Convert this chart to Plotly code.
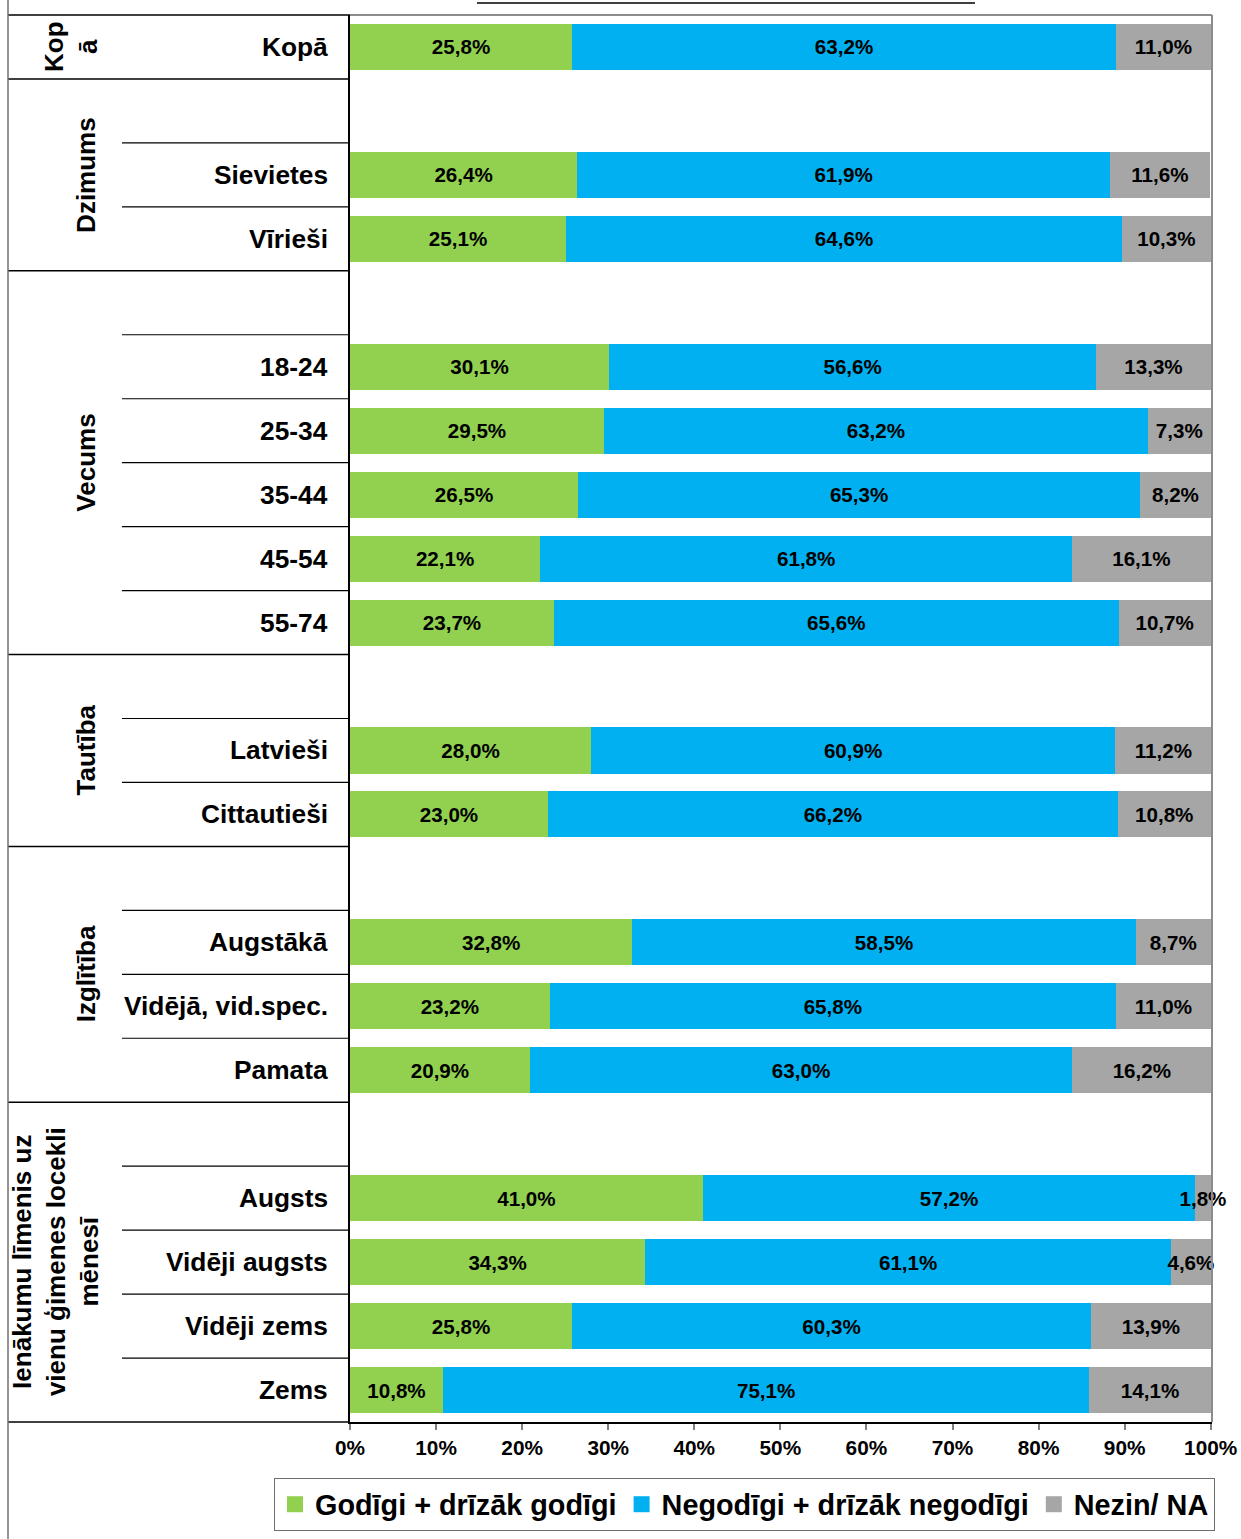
import plotly.graph_objects as go

# ---------------- data ----------------
row_labels = ["Kopā", "", "Sievietes", "Vīrieši", "", "18-24", "25-34", "35-44", "45-54", "55-74",
              "", "Latvieši", "Cittautieši", "", "Augstākā", "Vidējā, vid.spec.", "Pamata",
              "", "Augsts", "Vidēji augsts", "Vidēji zems", "Zems"]
godigi = [25.8, None, 26.4, 25.1, None, 30.1, 29.5, 26.5, 22.1, 23.7,
          None, 28.0, 23.0, None, 32.8, 23.2, 20.9, None, 41.0, 34.3, 25.8, 10.8]
negodigi = [63.2, None, 61.9, 64.6, None, 56.6, 63.2, 65.3, 61.8, 65.6,
            None, 60.9, 66.2, None, 58.5, 65.8, 63.0, None, 57.2, 61.1, 60.3, 75.1]
nezin = [11.0, None, 11.6, 10.3, None, 13.3, 7.3, 8.2, 16.1, 10.7,
         None, 11.2, 10.8, None, 8.7, 11.0, 16.2, None, 1.8, 4.6, 13.9, 14.1]
group_names = ["Kop<br>ā", "Dzimums", "Vecums", "Tautība", "Izglītība",
               "Ienākumu līmenis uz<br>vienu ģimenes locekli<br>mēnesī"]
group_sizes = [1, 3, 6, 3, 4, 5]
series_names = ["Godīgi + drīzāk godīgi", "Negodīgi + drīzāk negodīgi", "Nezin/ NA"]
colors = ["#92D050", "#00B0F0", "#A6A6A6"]
x_ticks = [0, 10, 20, 30, 40, 50, 60, 70, 80, 90, 100]

# ---------------- geometry ----------------
W, H = 1241, 1539
L, R, T, B = 350, 29, 15, 117
PW, PH = W - L - R, H - T - B
n = len(row_labels)


def px_x(p):
    return (p - L) / PW


def px_y(p):
    return (H - B - p) / PH


def row_edge(i):  # paper y of the top edge of row i
    return 1 - i / n


FONT = "Liberation Sans, Arial, sans-serif"


def fmt(v):
    return "" if v is None else f"{v:.1f}".replace(".", ",") + "%"


fig = go.Figure()
ys = list(range(n))
for name, vals, col in zip(series_names, [godigi, negodigi, nezin], colors):
    fig.add_trace(go.Bar(
        y=ys, x=vals, name=name, orientation="h", showlegend=False,
        marker=dict(color=col, line=dict(width=0)),
        text=[fmt(v) for v in vals], textposition="inside",
        insidetextanchor="middle", textangle=0, constraintext="none",
        textfont=dict(family=FONT, size=20.6, color="black", weight="bold"),
        cliponaxis=False,
    ))
# legend entries (square swatches)
for name, col in zip(series_names, colors):
    fig.add_trace(go.Scatter(
        x=[None], y=[None], mode="markers", name=name, showlegend=True,
        marker=dict(symbol="square", size=16, color=col, line=dict(width=0)),
    ))

shapes = []
annotations = []
x_left = px_x(8)
x_inner = px_x(122)
# category labels
for i, lab in enumerate(row_labels):
    if lab:
        annotations.append(dict(
            x=0, xref="paper", y=i, yref="y", text=f"<b>{lab}</b>", showarrow=False,
            xanchor="right", yanchor="middle", xshift=-20,
            font=dict(family=FONT, size=26.3, color="black")))

# group structure lines and labels
start = 0
shapes.append(dict(type="line", xref="paper", yref="paper", x0=x_left, x1=0,
                   y0=row_edge(0), y1=row_edge(0), line=dict(color="black", width=1.5)))
for gname, gsize in zip(group_names, group_sizes):
    end = start + gsize
    shapes.append(dict(type="line", xref="paper", yref="paper", x0=x_left, x1=0,
                       y0=row_edge(end), y1=row_edge(end), line=dict(color="black", width=1.5)))
    for k in range(start + 1, end):
        shapes.append(dict(type="line", xref="paper", yref="paper", x0=x_inner, x1=0,
                           y0=row_edge(k), y1=row_edge(k), line=dict(color="black", width=1.2)))
    nlines = gname.count("<br>") + 1
    cx = 86 - (nlines - 1) * 15
    annotations.append(dict(
        x=px_x(cx), xref="paper", y=(row_edge(start) + row_edge(end)) / 2, yref="paper",
        text=f"<b>{gname}</b>", textangle=-90, showarrow=False, align="center",
        xanchor="center", yanchor="middle",
        font=dict(family=FONT, size=26, color="black")))
    start = end

# outer left border
shapes.append(dict(type="line", xref="paper", yref="paper", x0=x_left, x1=x_left,
                   y0=px_y(0), y1=px_y(H), line=dict(color="#707070", width=1.5)))
# plot area top and right border
shapes.append(dict(type="line", xref="paper", yref="paper", x0=0, x1=1, y0=1, y1=1,
                   line=dict(color="#8C8C8C", width=2)))
shapes.append(dict(type="line", xref="paper", yref="paper", x0=1, x1=1, y0=0, y1=1,
                   line=dict(color="#8C8C8C", width=2)))
# underline of the (cropped) heading at the very top
shapes.append(dict(type="line", xref="paper", yref="paper", x0=px_x(477), x1=px_x(975),
                   y0=px_y(3), y1=px_y(3), line=dict(color="black", width=1.5)))

fig.update_layout(
    width=W, height=H, autosize=False,
    margin=dict(l=L, r=R, t=T, b=B, pad=0, autoexpand=False),
    barmode="stack", bargap=0.28,
    plot_bgcolor="white", paper_bgcolor="white",
    font=dict(family=FONT, color="black"),
    shapes=shapes, annotations=annotations,
    showlegend=True,
    legend=dict(orientation="h", xref="paper", yref="paper",
                x=px_x(274), xanchor="left", y=px_y(1478), yanchor="top",
                traceorder="normal",
                bordercolor="#6E6E6E", borderwidth=1, bgcolor="white",
                font=dict(family=FONT, size=28.8, color="black", weight="bold"),
                itemwidth=30, tracegroupgap=0),
    xaxis=dict(range=[0, 100.15], tickvals=x_ticks, ticktext=[f"{v}%" for v in x_ticks],
               showgrid=False, zeroline=False, showline=True, linecolor="black", linewidth=1.5,
               ticks="outside", ticklen=6, tickcolor="#808080", tickwidth=1.5,
               tickfont=dict(family=FONT, size=20.8, color="black", weight="bold")),
    yaxis=dict(range=[n - 0.5, -0.5], showticklabels=False, showgrid=False, zeroline=False,
               showline=True, linecolor="black", linewidth=1.5, ticks=""),
)

fig.write_html("out.html", config={"displayModeBar": False},
               post_script="document.body.style.margin='0';document.body.style.overflow='hidden';")
